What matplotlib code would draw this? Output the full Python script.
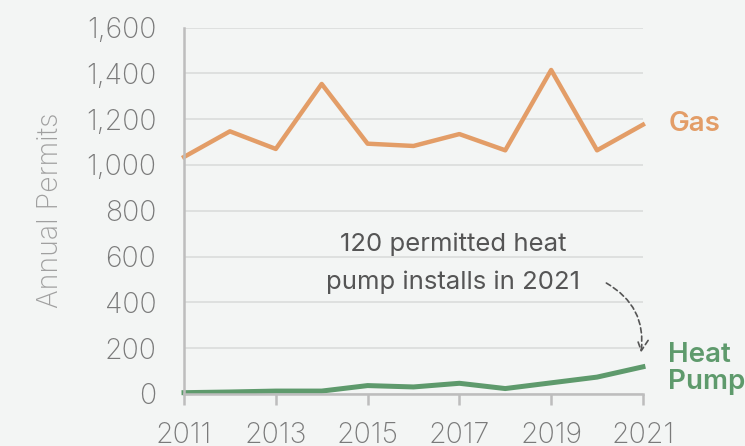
import matplotlib
matplotlib.use("Agg")
import matplotlib.pyplot as plt
from matplotlib.ticker import FuncFormatter

# data
years = [2011, 2012, 2013, 2014, 2015, 2016, 2017, 2018, 2019, 2020, 2021]
gas = [1035, 1147, 1070, 1354, 1093, 1083, 1135, 1064, 1415, 1064, 1176]
heat_pump = [5, 8, 12, 12, 36, 30, 46, 23, 48, 73, 118]
x_ticks = [2011, 2013, 2015, 2017, 2019, 2021]
y_ticks = [0, 200, 400, 600, 800, 1000, 1200, 1400, 1600]

bg = "#f3f5f4"
gas_color = "#e39d67"
hp_color = "#5e9a6c"
text_gray = "#7a7a7a"

plt.rcParams["font.family"] = ["Inter", "DejaVu Sans"]

fig = plt.figure(figsize=(7.45, 4.46), dpi=100, facecolor=bg)
ax = fig.add_axes([0.247, 0.117, 0.616, 0.821], facecolor=bg)

ax.plot(years, gas, color=gas_color, lw=3.2, clip_on=False)
ax.plot(years, heat_pump, color=hp_color, lw=3.6, clip_on=False)

ax.set_xlim(2011, 2021)
ax.set_ylim(0, 1600)
ax.set_xticks(x_ticks)
ax.set_yticks(y_ticks)
ax.yaxis.set_major_formatter(FuncFormatter(lambda v, _: f"{v:,.0f}"))

ax.grid(axis="y", color="#dcdedd", lw=1.3)
ax.set_axisbelow(True)
for s in ["top", "right"]:
    ax.spines[s].set_visible(False)
for s in ["left", "bottom"]:
    ax.spines[s].set_color("#bdbdbd")
    ax.spines[s].set_linewidth(1.8)

ax.tick_params(axis="y", length=0, pad=20, labelsize=20.5, labelcolor=text_gray)
ax.tick_params(axis="x", length=8, width=1.8, color="#bdbdbd", pad=12,
               labelsize=20.5, labelcolor=text_gray)
for lbl in ax.get_xticklabels() + ax.get_yticklabels():
    lbl.set_fontweight("light")

ax.set_ylabel("Annual Permits", fontsize=20.5, color="#a0a0a0", labelpad=16,
              fontweight="light")

# series labels at the right end
ax.text(2021.55, gas[-1] + 5, "Gas", color=gas_color, fontsize=20,
        fontweight="semibold", va="center", ha="left", clip_on=False)
ax.text(2021.55, heat_pump[-1] - 8, "Heat\nPump", color=hp_color, fontsize=20,
        fontweight="semibold", va="center", ha="left", linespacing=1.05, clip_on=False)

# annotation
ax.text(2016.86, 570, "120 permitted heat\npump installs in 2021", color="#555555",
        fontsize=18.5, ha="center", va="center", linespacing=1.8)
ax.annotate("", xy=(2020.95, heat_pump[-1] + 50), xytext=(2020.15, 490),
            arrowprops=dict(arrowstyle="->", color="#555555", lw=1.2,
                            linestyle=(0, (3, 2)),
                            connectionstyle="arc3,rad=-0.35",
                            mutation_scale=20))

fig.savefig("out.png", dpi=100, facecolor=bg)
